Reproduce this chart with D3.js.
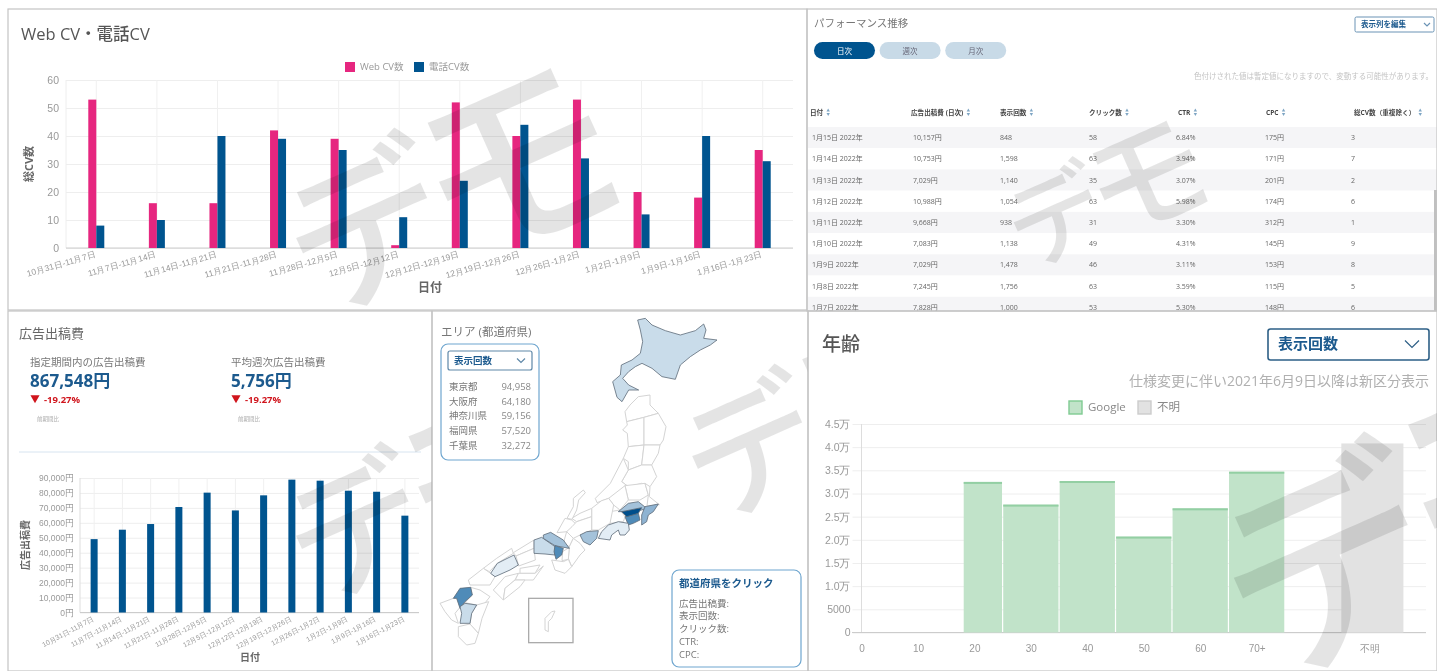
<!DOCTYPE html>
<html>
<head>
<meta charset="utf-8">
<script src="https://cdn.jsdelivr.net/npm/d3@7"></script>
<style>
    body { margin: 0; background: #fff; }
    svg { display: block; filter: blur(0.5px); font-family: "Open Sans", "Noto Sans CJK JP", sans-serif; }
    .axis path { display: none; }
    .axis line { stroke: #eee; }
    .axis text { fill: #999; }
</style>
</head>
<body>
<div id="board"></div>
<script>

// Data

var cvWeeks = [ '10月31日-11月7日', '11月7日-11月14日', '11月14日-11月21日', '11月21日-11月28日', '11月28日-12月5日', '12月5日-12月12日', '12月12日-12月19日', '12月19日-12月26日', '12月26日-1月2日', '1月2日-1月9日', '1月9日-1月16日', '1月16日-1月23日' ];
var webCv = [ 53, 16, 16, 42, 39, 1, 52, 40, 53, 20, 18, 35 ];
var phoneCv = [ 8, 10, 40, 39, 35, 11, 24, 44, 32, 12, 40, 31 ];
var cvTicks = [ 0, 10, 20, 30, 40, 50, 60 ];

var adCost = [ 49100, 55400, 59200, 70600, 80200, 68300, 78400, 88900, 88200, 81500, 80800, 64800 ];
var adCostTicks = [ 0, 10000, 20000, 30000, 40000, 50000, 60000, 70000, 80000, 90000 ];

var tableHeaders = [ '日付', '広告出稿費 (日次)', '表示回数', 'クリック数', 'CTR', 'CPC', '総CV数（重複除く）' ];
var tableRows = [
    [ '1月15日 2022年', '10,157円', '848', '58', '6.84%', '175円', '3' ],
    [ '1月14日 2022年', '10,753円', '1,598', '63', '3.94%', '171円', '7' ],
    [ '1月13日 2022年', '7,029円', '1,140', '35', '3.07%', '201円', '2' ],
    [ '1月12日 2022年', '10,988円', '1,054', '63', '5.98%', '174円', '6' ],
    [ '1月11日 2022年', '9,668円', '938', '31', '3.30%', '312円', '1' ],
    [ '1月10日 2022年', '7,083円', '1,138', '49', '4.31%', '145円', '9' ],
    [ '1月9日 2022年', '7,029円', '1,478', '46', '3.11%', '153円', '8' ],
    [ '1月8日 2022年', '7,245円', '1,756', '63', '3.59%', '115円', '5' ],
    [ '1月7日 2022年', '7,828円', '1,000', '53', '5.30%', '148円', '6' ]
];

var topAreas = [ '東京都', '大阪府', '神奈川県', '福岡県', '千葉県' ];
var topAreaValues = [ 94958, 64180, 59156, 57520, 32272 ];
var clickLabels = [ '広告出稿費:', '表示回数:', 'クリック数:', 'CTR:', 'CPC:' ];

var ageStart = [ 18, 25, 35, 45, 55, 65 ];
var ageEnd = [ 25, 35, 45, 55, 65, 75 ];
var ageValues = [ 32500, 27600, 32700, 20700, 26800, 34700 ];
var unknownBin = [ 85, 96, 40800 ];
var ageTicks = [ 0, 10, 20, 30, 40, 50, 60, 70, 90 ];
var ageTickLabels = [ '0', '10', '20', '30', '40', '50', '60', '70+', '不明' ];
var ageValueTicks = [ 0, 5000, 10000, 15000, 20000, 25000, 30000, 35000, 40000, 45000 ];

// Prefecture outlines, in map units, with impression class ( 0 = no data )
var prefShapes = [
    [ 0, [[619,260],[654,255],[654,285],[679,310],[636,322],[584,335],[579,305],[594,285]] ],
    [ 0, [[584,335],[636,322],[636,405],[589,410],[586,370],[572,360],[586,345]] ],
    [ 0, [[636,322],[679,310],[702,350],[694,390],[684,405],[636,405]] ],
    [ 0, [[589,410],[636,405],[629,465],[589,480],[589,455],[574,445]] ],
    [ 0, [[636,405],[684,405],[679,430],[659,465],[629,465]] ],
    [ 0, [[589,480],[629,465],[659,465],[674,500],[654,530],[629,520],[589,530],[569,515]] ],
    [ 0, [[574,445],[589,480],[569,515],[589,530],[570,550],[530,565],[495,578],[490,565],[535,520]] ],
    [ 0, [[579,527],[639,520],[649,555],[624,570],[589,570]] ],
    [ 0, [[530,565],[579,527],[589,570],[564,600],[545,585]] ],
    [ 0, [[639,520],[654,530],[652,560],[682,584],[645,588],[649,555]] ],
    [ 0, [[534,605],[564,600],[579,620],[574,635],[534,640]] ],
    [ 0, [[479,595],[509,572],[530,565],[545,585],[534,640],[499,660],[479,660]] ],
    [ 0, [[419,625],[444,610],[479,595],[479,620],[434,635]] ],
    [ 0, [[454,540],[424,565],[424,590],[405,625],[420,628],[434,600],[440,570],[460,548]] ],
    [ 0, [[399,625],[419,630],[440,650],[405,665],[375,668]] ],
    [ 0, [[434,635],[479,620],[479,660],[444,675],[424,685],[404,665],[420,650]] ],
    [ 0, [[404,665],[424,685],[412,710],[394,700]] ],
    [ 0, [[424,685],[444,700],[459,720],[444,735],[419,770],[409,745],[412,710]] ],
    [ 0, [[392,725],[412,712],[409,748],[390,752]] ],
    [ 0, [[359,750],[394,755],[409,748],[419,770],[399,790],[369,780]] ],
    [ 0, [[244,728],[306,690],[306,715],[252,738]] ],
    [ 0, [[252,738],[306,715],[310,750],[260,768]] ],
    [ 0, [[154,775],[194,745],[239,715],[244,730],[196,760],[172,785]] ],
    [ 0, [[109,810],[154,775],[176,790],[189,800],[174,825],[114,825]] ],
    [ 0, [[264,775],[324,765],[309,790],[264,790]] ],
    [ 0, [[259,790],[309,790],[334,768],[304,810],[279,810],[249,810]] ],
    [ 0, [[184,840],[219,800],[259,790],[249,810],[219,835],[214,870]] ],
    [ 0, [[214,870],[219,835],[249,810],[279,810],[264,830]] ],
    [ 0, [[24,880],[64,865],[74,865],[84,892],[69,910],[79,940],[59,930],[39,905]] ],
    [ 0, [[116,832],[144,840],[174,860],[154,885],[134,885],[99,878],[121,855]] ],
    [ 0, [[134,885],[170,875],[150,925],[139,970],[114,942],[119,910]] ],
    [ 0, [[79,950],[114,942],[139,970],[129,1000],[104,1005],[79,980]] ],
    [ 0, [[369,903],[359,925],[349,935],[349,965],[339,960],[339,925],[359,905]] ],
    [ 2, [[617,30],[640,25],[660,45],[700,62],[745,75],[790,62],[815,42],[822,60],[815,85],[855,90],[835,105],[805,120],[775,140],[745,165],[730,208],[690,200],[660,175],[630,160],[610,170],[590,185],[572,205],[590,225],[620,240],[590,240],[570,275],[555,262],[542,215],[565,195],[568,165],[600,150],[625,130],[632,95],[625,60]] ],
    [ 3, [[559,605],[589,580],[619,575],[644,595],[629,600],[579,605]] ],
    [ 4, [[629,615],[639,590],[679,582],[664,605],[649,615],[644,635],[629,645]] ],
    [ 5, [[579,620],[619,610],[624,630],[604,640],[589,645]] ],
    [ 6, [[569,605],[629,593],[619,610],[584,620]] ],
    [ 1, [[499,685],[509,665],[529,645],[559,635],[589,640],[592,660],[579,675],[564,675],[559,660],[539,675],[534,690]] ],
    [ 3, [[444,675],[464,665],[499,662],[494,685],[474,705],[454,695]] ],
    [ 2, [[306,690],[329,682],[369,710],[369,735],[339,732],[306,730]] ],
    [ 3, [[334,675],[356,667],[394,690],[412,715],[369,707],[334,685]] ],
    [ 5, [[369,707],[394,715],[389,735],[372,748],[366,725]] ],
    [ 1, [[176,790],[196,760],[246,735],[259,765],[234,780],[189,800]] ],
    [ 5, [[64,865],[84,835],[116,832],[121,855],[99,875],[84,895],[74,865]] ],
    [ 2, [[84,890],[99,880],[134,885],[119,910],[114,940],[84,940],[89,910]] ]
];
var prefColors = [ '#ffffff', '#e3edf5', '#c9dcea', '#a4c2da', '#8eb3d2', '#4f8bb8', '#004f8c' ];

// Shared colours

var navy = '#00548f', pink = '#e6267f', textGrey = '#666', lightGrey = '#999';

var svg = d3.select('#board').append('svg')
    .attr('width', 1437)
    .attr('height', 671);

svg.append('rect')
    .attr('width', 1437)
    .attr('height', 671)
    .attr('fill', '#fff');

function label ( parent, x, y, str, size, color, weight, anchor ) {

    return parent.append('text')
        .attr('x', x)
        .attr('y', y)
        .attr('font-size', size)
        .attr('fill', color)
        .attr('font-weight', weight || 400)
        .attr('text-anchor', anchor || 'start')
        .text( str );

}

function chevron ( parent, x, y, w, h, color ) {

    parent.append('path')
        .attr('d', d3.line()([ [ x - w, y - h ], [ x, y + h ], [ x + w, y - h ] ]))
        .attr('fill', 'none')
        .attr('stroke', color)
        .attr('stroke-width', 1.2);

}

function panel ( id, x, y, w, h ) {

    // Panel frame and its clip for the watermark

    var g = svg.append('g');

    g.append('rect')
        .attr('x', x).attr('y', y).attr('width', w).attr('height', h)
        .attr('fill', 'none')
        .attr('stroke', '#c4c4c4')
        .attr('stroke-width', 1.2);

    svg.append('clipPath').attr('id', id)
        .append('rect').attr('x', x).attr('y', y).attr('width', w).attr('height', h);

    return g;

}

function watermark ( id, cx, cy, size ) {

    var mark = svg.append('g').attr('clip-path', 'url(#' + id + ')')
        .append('text')
        .attr('transform', 'translate(' + cx + ',' + cy + ') rotate(-24)')
        .attr('text-anchor', 'middle')
        .attr('dominant-baseline', 'central')
        .attr('font-size', size)
        .attr('font-weight', 500)
        .attr('fill', 'rgba(0,0,0,0.105)');

    mark.append('tspan').attr('font-size', size * 0.8).text('デ');
    mark.append('tspan').attr('dx', -size * 0.1).text('モ');

}

function weekAxis ( g, x, y, rotate, size, endY ) {

    g.append('g')
        .attr('class', 'axis')
        .attr('transform', 'translate(0,' + y + ')')
        .call( d3.axisBottom( x ).tickSize( 0 ) )
        .selectAll('text')
        .attr('font-size', size)
        .attr('text-anchor', 'end')
        .attr('dy', 0)
        .attr('y', endY)
        .attr('transform', 'rotate(' + rotate + ',0,' + endY + ')');

}

function verticalGrid ( g, x, y0, y1 ) {

    g.selectAll(null)
        .data( x.domain() )
        .enter().append('line')
        .attr('x1', function ( d ) { return x( d ) + x.bandwidth() / 2; })
        .attr('x2', function ( d ) { return x( d ) + x.bandwidth() / 2; })
        .attr('y1', y0)
        .attr('y2', y1)
        .attr('stroke', '#f0f0f0');

}

// Web CV / phone CV chart

var cvPanel = panel( 'clip-cv', 8, 9, 799, 301 );

label( cvPanel, 21, 40, 'Web CV・電話CV', 16.5, '#555', 500 );

var cvX = d3.scaleBand().domain( cvWeeks ).range([ 66, 793 ]);
var cvY = d3.scaleLinear().domain([ 0, 60 ]).range([ 248, 80 ]);

var cvAxis = cvPanel.append('g')
    .attr('class', 'axis')
    .attr('transform', 'translate(66,0)')
    .call( d3.axisLeft( cvY ).tickValues( cvTicks ).tickSize( -727 ).tickPadding( 7 ) );

cvAxis.selectAll('text').attr('font-size', 10.5);

verticalGrid( cvPanel, cvX, 80, 248 );

cvPanel.append('line').attr('x1', 66).attr('x2', 66).attr('y1', 80).attr('y2', 248).attr('stroke', '#eee');
cvPanel.append('line').attr('x1', 66).attr('x2', 793).attr('y1', 248).attr('y2', 248).attr('stroke', '#ccc');

var cvBar = 8;

cvPanel.selectAll('.web').data( webCv ).enter().append('rect')
    .attr('x', function ( d, i ) { return cvX( cvWeeks[ i ] ) + cvX.bandwidth() / 2 - cvBar; })
    .attr('y', function ( d ) { return cvY( d ); })
    .attr('width', cvBar)
    .attr('height', function ( d ) { return cvY( 0 ) - cvY( d ); })
    .attr('fill', pink);

cvPanel.selectAll('.phone').data( phoneCv ).enter().append('rect')
    .attr('x', function ( d, i ) { return cvX( cvWeeks[ i ] ) + cvX.bandwidth() / 2; })
    .attr('y', function ( d ) { return cvY( d ); })
    .attr('width', cvBar)
    .attr('height', function ( d ) { return cvY( 0 ) - cvY( d ); })
    .attr('fill', navy);

weekAxis( cvPanel, cvX, 248, -16, 8.5, 9 );

cvPanel.append('rect').attr('x', 345).attr('y', 62).attr('width', 10).attr('height', 10).attr('fill', pink);
label( cvPanel, 360, 70, 'Web CV数', 9.5, lightGrey );
cvPanel.append('rect').attr('x', 414).attr('y', 62).attr('width', 10).attr('height', 10).attr('fill', navy);
label( cvPanel, 429, 70, '電話CV数', 9.5, lightGrey );

label( cvPanel, 430, 292, '日付', 12, textGrey, 700, 'middle' );
label( cvPanel, 0, 0, '総CV数', 11, textGrey, 700, 'middle' )
    .attr('transform', 'translate(33,164) rotate(-90)');

watermark( 'clip-cv', 450, 187, 205 );

// Performance table

var tablePanel = panel( 'clip-table', 807, 9, 630, 302 );

label( tablePanel, 814, 27, 'パフォーマンス推移', 10.5, '#777' );

var dropTable = tablePanel.append('g');
dropTable.append('rect').attr('x', 1355).attr('y', 17).attr('width', 79).attr('height', 15).attr('rx', 1.5)
    .attr('fill', '#fff').attr('stroke', '#6a93b5');
label( dropTable, 1361, 27, '表示列を編集', 7.5, '#1c5a8e', 700 );
chevron( dropTable, 1427, 24.5, 3, 1.5, '#6a93b5' );

[ '日次', '週次', '月次' ].forEach( function ( name, i ) {

    var on = i === 0;

    tablePanel.append('rect')
        .attr('x', 814 + i * 65.6).attr('y', 42).attr('width', 61).attr('height', 17).attr('rx', 8.5)
        .attr('fill', on ? navy : '#c8dae7');
    label( tablePanel, 844.5 + i * 65.6, 53.5, name, 7.5, on ? '#fff' : '#667', 400, 'middle' );

});

label( tablePanel, 1433, 79, '色付けされた値は暫定値になりますので、変動する可能性があります。', 7.5, '#c4c4c4', 400, 'end' );

var headX = [ 810, 911, 1000, 1089, 1178, 1266, 1354 ];
var cellX = [ 812, 913, 1000, 1089, 1176, 1265, 1351 ];
var rowY = d3.scaleBand().domain( d3.range( tableRows.length ) ).range([ 127, 318 ]);

var tableBody = svg.append('g').attr('clip-path', 'url(#clip-table)');

tableBody.selectAll('.stripe').data( tableRows ).enter().append('rect')
    .attr('x', 808)
    .attr('y', function ( d, i ) { return rowY( i ); })
    .attr('width', 629)
    .attr('height', rowY.bandwidth())
    .attr('fill', function ( d, i ) { return i % 2 ? '#fff' : '#f5f5f7'; });

tableHeaders.forEach( function ( name, i ) {

    var t = label( tablePanel, headX[ i ], 115, name, 6.6, '#444', 700 );
    var end = t.node().getComputedTextLength() + headX[ i ] + 5;

    [ 0, 180 ].forEach( function ( r ) {
        tablePanel.append('path')
            .attr('d', d3.symbol( d3.symbolTriangle, 5 ))
            .attr('transform', 'translate(' + end + ',' + ( r ? 114 : 110.5 ) + ') rotate(' + r + ')')
            .attr('fill', '#7fa6c4');
    });

});

tableRows.forEach( function ( row, r ) {

    row.forEach( function ( cell, c ) {
        label( tableBody, cellX[ c ], rowY( r ) + rowY.bandwidth() / 2 + 2.5, cell, 7, '#666' );
    });

});

tablePanel.raise();

tableBody.append('rect').attr('x', 1434).attr('y', 190).attr('width', 3).attr('height', 121).attr('fill', '#c0c0c0');

watermark( 'clip-table', 1106, 192, 123 );

// Ad cost chart

var costPanel = panel( 'clip-cost', 8, 311, 424, 360 );

label( costPanel, 19, 338, '広告出稿費', 13, '#666' );

[ [ 30, '指定期間内の広告出稿費', '867,548円' ], [ 231, '平均週次広告出稿費', '5,756円' ] ].forEach( function ( kpi ) {

    label( costPanel, kpi[ 0 ], 366, kpi[ 1 ], 10.5, '#777' );
    label( costPanel, kpi[ 0 ], 387, kpi[ 2 ], 17, '#1c5a8e', 700 );
    costPanel.append('path')
        .attr('d', d3.symbol( d3.symbolTriangle, 36 ))
        .attr('transform', 'translate(' + ( kpi[ 0 ] + 5 ) + ',398) rotate(180)')
        .attr('fill', '#d0141c');
    label( costPanel, kpi[ 0 ] + 14, 403, '-19.27%', 9.5, '#d0141c', 700 );
    label( costPanel, kpi[ 0 ] + 7, 421, '前期間比', 5.5, '#aaa' );

});

costPanel.append('line').attr('x1', 19).attr('x2', 421).attr('y1', 452).attr('y2', 452).attr('stroke', '#d7e4f0');

var costX = d3.scaleBand().domain( cvWeeks ).range([ 80, 419 ]);
var costY = d3.scaleLinear().domain([ 0, 90000 ]).range([ 612.5, 478 ]);

var costAxis = costPanel.append('g')
    .attr('class', 'axis')
    .attr('transform', 'translate(80,0)')
    .call( d3.axisLeft( costY ).tickValues( adCostTicks ).tickSize( -339 ).tickPadding( 6 )
        .tickFormat( function ( d ) { return d3.format(',')( d ) + '円'; }) );

costAxis.selectAll('text').attr('font-size', 8.5);

verticalGrid( costPanel, costX, 478, 612.5 );

costPanel.append('line').attr('x1', 80).attr('x2', 80).attr('y1', 478).attr('y2', 612.5).attr('stroke', '#ddd');
costPanel.append('line').attr('x1', 80).attr('x2', 419).attr('y1', 612.5).attr('y2', 612.5).attr('stroke', '#ccc');

costPanel.selectAll('.cost').data( adCost ).enter().append('rect')
    .attr('x', function ( d, i ) { return costX( cvWeeks[ i ] ) + costX.bandwidth() / 2 - 3.5; })
    .attr('y', function ( d ) { return costY( d ); })
    .attr('width', 7)
    .attr('height', function ( d ) { return costY( 0 ) - costY( d ); })
    .attr('fill', navy);

weekAxis( costPanel, costX, 612.5, -28, 7, 8 );

label( costPanel, 250, 661, '日付', 10, textGrey, 700, 'middle' );
label( costPanel, 0, 0, '広告出稿費', 10, textGrey, 700, 'middle' )
    .attr('transform', 'translate(29,545) rotate(-90)');

watermark( 'clip-cost', 428, 492, 176 );

// Prefecture map

var mapPanel = panel( 'clip-map', 432, 311, 376, 360 );

var mapX = d3.scaleLinear().domain([ 0, 1128 ]).range([ 432, 808 ]);
var mapY = d3.scaleLinear().domain([ 0, 1083 ]).range([ 310, 671 ]);
var mapLine = d3.line()
    .x( function ( d ) { return mapX( d[ 0 ] ); })
    .y( function ( d ) { return mapY( d[ 1 ] ); })
    .curve( d3.curveLinearClosed );

svg.append('g').selectAll('path')
    .data( prefShapes )
    .enter().append('path')
    .attr('d', function ( d ) { return mapLine( d[ 1 ] ); })
    .attr('fill', function ( d ) { return prefColors[ d[ 0 ] ]; })
    .attr('stroke', function ( d ) { return d[ 0 ] ? '#5d6b78' : '#d4d4d4'; })
    .attr('stroke-linejoin', 'round')
    .attr('stroke-width', function ( d ) { return d[ 0 ] ? 0.8 : 1; });

mapPanel.raise();

svg.append('rect')
    .attr('x', mapX( 290 )).attr('y', mapY( 865 ))
    .attr('width', mapX( 423 ) - mapX( 290 )).attr('height', mapY( 998 ) - mapY( 865 ))
    .attr('fill', 'none').attr('stroke', '#aaa').attr('stroke-width', 1.3);

label( mapPanel, 441, 336, 'エリア (都道府県)', 11.5, '#777' );

mapPanel.append('rect').attr('x', 441).attr('y', 344).attr('width', 98).attr('height', 116).attr('rx', 7)
    .attr('fill', '#fff').attr('stroke', '#6fa6cf').attr('stroke-width', 1.2);
mapPanel.append('rect').attr('x', 448).attr('y', 351).attr('width', 84).attr('height', 19).attr('rx', 2)
    .attr('fill', '#fff').attr('stroke', '#5f88a8').attr('stroke-width', 1.2);
label( mapPanel, 454, 364, '表示回数', 9.5, '#1c5a8e', 700 );
chevron( mapPanel, 521, 360.5, 4, 2, '#5f88a8' );

var areaY = d3.scalePoint().domain( topAreas ).range([ 386.5, 445 ]);

topAreas.forEach( function ( name, i ) {

    label( mapPanel, 449, areaY( name ) + 3.5, name, 9.5, '#777' );
    label( mapPanel, 531, areaY( name ) + 3.5, d3.format(',')( topAreaValues[ i ] ), 9.5, '#888', 400, 'end' );

});

mapPanel.append('rect').attr('x', 672).attr('y', 570).attr('width', 129).attr('height', 97).attr('rx', 7)
    .attr('fill', '#fff').attr('stroke', '#6fa6cf').attr('stroke-width', 1.2);
label( mapPanel, 679, 587, '都道府県をクリック', 10.5, '#1c5a8e', 700 );

var clickY = d3.scalePoint().domain( clickLabels ).range([ 603, 654 ]);

clickLabels.forEach( function ( name ) {
    label( mapPanel, 679, clickY( name ) + 3.5, name, 9.5, '#777' );
});

watermark( 'clip-map', 821, 413, 172 );

// Age chart

var agePanel = panel( 'clip-age', 808, 311, 629, 360 );

label( agePanel, 822, 351, '年齢', 19, '#555', 500 );

agePanel.append('rect').attr('x', 1268).attr('y', 329).attr('width', 161).attr('height', 31).attr('rx', 2.5)
    .attr('fill', '#fff').attr('stroke', '#2d5f86').attr('stroke-width', 1.6);
label( agePanel, 1278, 349, '表示回数', 15, '#1c5a8e', 700 );
chevron( agePanel, 1412, 344, 7, 3.5, '#2d5f86' );

label( agePanel, 1429, 386, '仕様変更に伴い2021年6月9日以降は新区分表示', 14, '#b0b0b0', 400, 'end' );

var ageX = d3.scaleLinear().domain([ 0, 100 ]).range([ 861.5, 1426 ]);
var ageY = d3.scaleLinear().domain([ 0, 45000 ]).range([ 632.5, 424 ]);

var ageAxisY = agePanel.append('g')
    .attr('class', 'axis')
    .attr('transform', 'translate(861.5,0)')
    .call( d3.axisLeft( ageY ).tickValues( ageValueTicks ).tickSize( -564.5 ).tickPadding( 11 )
        .tickFormat( function ( d ) { return d < 10000 ? String( d ) : ( d / 10000 ).toFixed( 1 ) + '万'; }) );

ageAxisY.selectAll('line').attr('x1', -9);
ageAxisY.selectAll('text').attr('font-size', 10.5);

agePanel.append('line').attr('x1', 861.5).attr('x2', 861.5).attr('y1', 424).attr('y2', 632.5).attr('stroke', '#ddd');
agePanel.append('line').attr('x1', 852).attr('x2', 1426).attr('y1', 632.5).attr('y2', 632.5).attr('stroke', '#ccc');

var ageAxisX = agePanel.append('g')
    .attr('class', 'axis')
    .attr('transform', 'translate(0,632.5)')
    .call( d3.axisBottom( ageX ).tickValues( ageTicks ).tickSize( 0 ).tickPadding( 12 )
        .tickFormat( function ( d, i ) { return ageTickLabels[ i ]; }) );

ageAxisX.selectAll('text').attr('font-size', 10);

agePanel.selectAll('.age').data( ageValues ).enter().append('rect')
    .attr('x', function ( d, i ) { return ageX( ageStart[ i ] ) + 0.6; })
    .attr('y', function ( d ) { return ageY( d ); })
    .attr('width', function ( d, i ) { return ageX( ageEnd[ i ] ) - ageX( ageStart[ i ] ) - 1.2; })
    .attr('height', function ( d ) { return ageY( 0 ) - ageY( d ); })
    .attr('fill', '#c1e3c9');

agePanel.selectAll('.ageTop').data( ageValues ).enter().append('rect')
    .attr('x', function ( d, i ) { return ageX( ageStart[ i ] ) + 0.6; })
    .attr('y', function ( d ) { return ageY( d ); })
    .attr('width', function ( d, i ) { return ageX( ageEnd[ i ] ) - ageX( ageStart[ i ] ) - 1.2; })
    .attr('height', 2)
    .attr('fill', '#93cfa3');

agePanel.append('rect')
    .attr('x', ageX( unknownBin[ 0 ] ))
    .attr('y', ageY( unknownBin[ 2 ] ))
    .attr('width', ageX( unknownBin[ 1 ] ) - ageX( unknownBin[ 0 ] ))
    .attr('height', ageY( 0 ) - ageY( unknownBin[ 2 ] ))
    .attr('fill', '#e2e2e2');

agePanel.append('rect')
    .attr('x', 1069).attr('y', 401).attr('width', 13).attr('height', 13)
    .attr('fill', '#c1e3c9').attr('stroke', '#7fcb92').attr('stroke-width', 1.4);
label( agePanel, 1088, 411, 'Google', 11.5, '#888' );
agePanel.append('rect')
    .attr('x', 1138).attr('y', 401).attr('width', 13).attr('height', 13)
    .attr('fill', '#e2e2e2').attr('stroke', '#ccc').attr('stroke-width', 1.4);
label( agePanel, 1157, 411, '不明', 11.5, '#888' );

watermark( 'clip-age', 1438, 510, 272 );

</script>
</body>
</html>
